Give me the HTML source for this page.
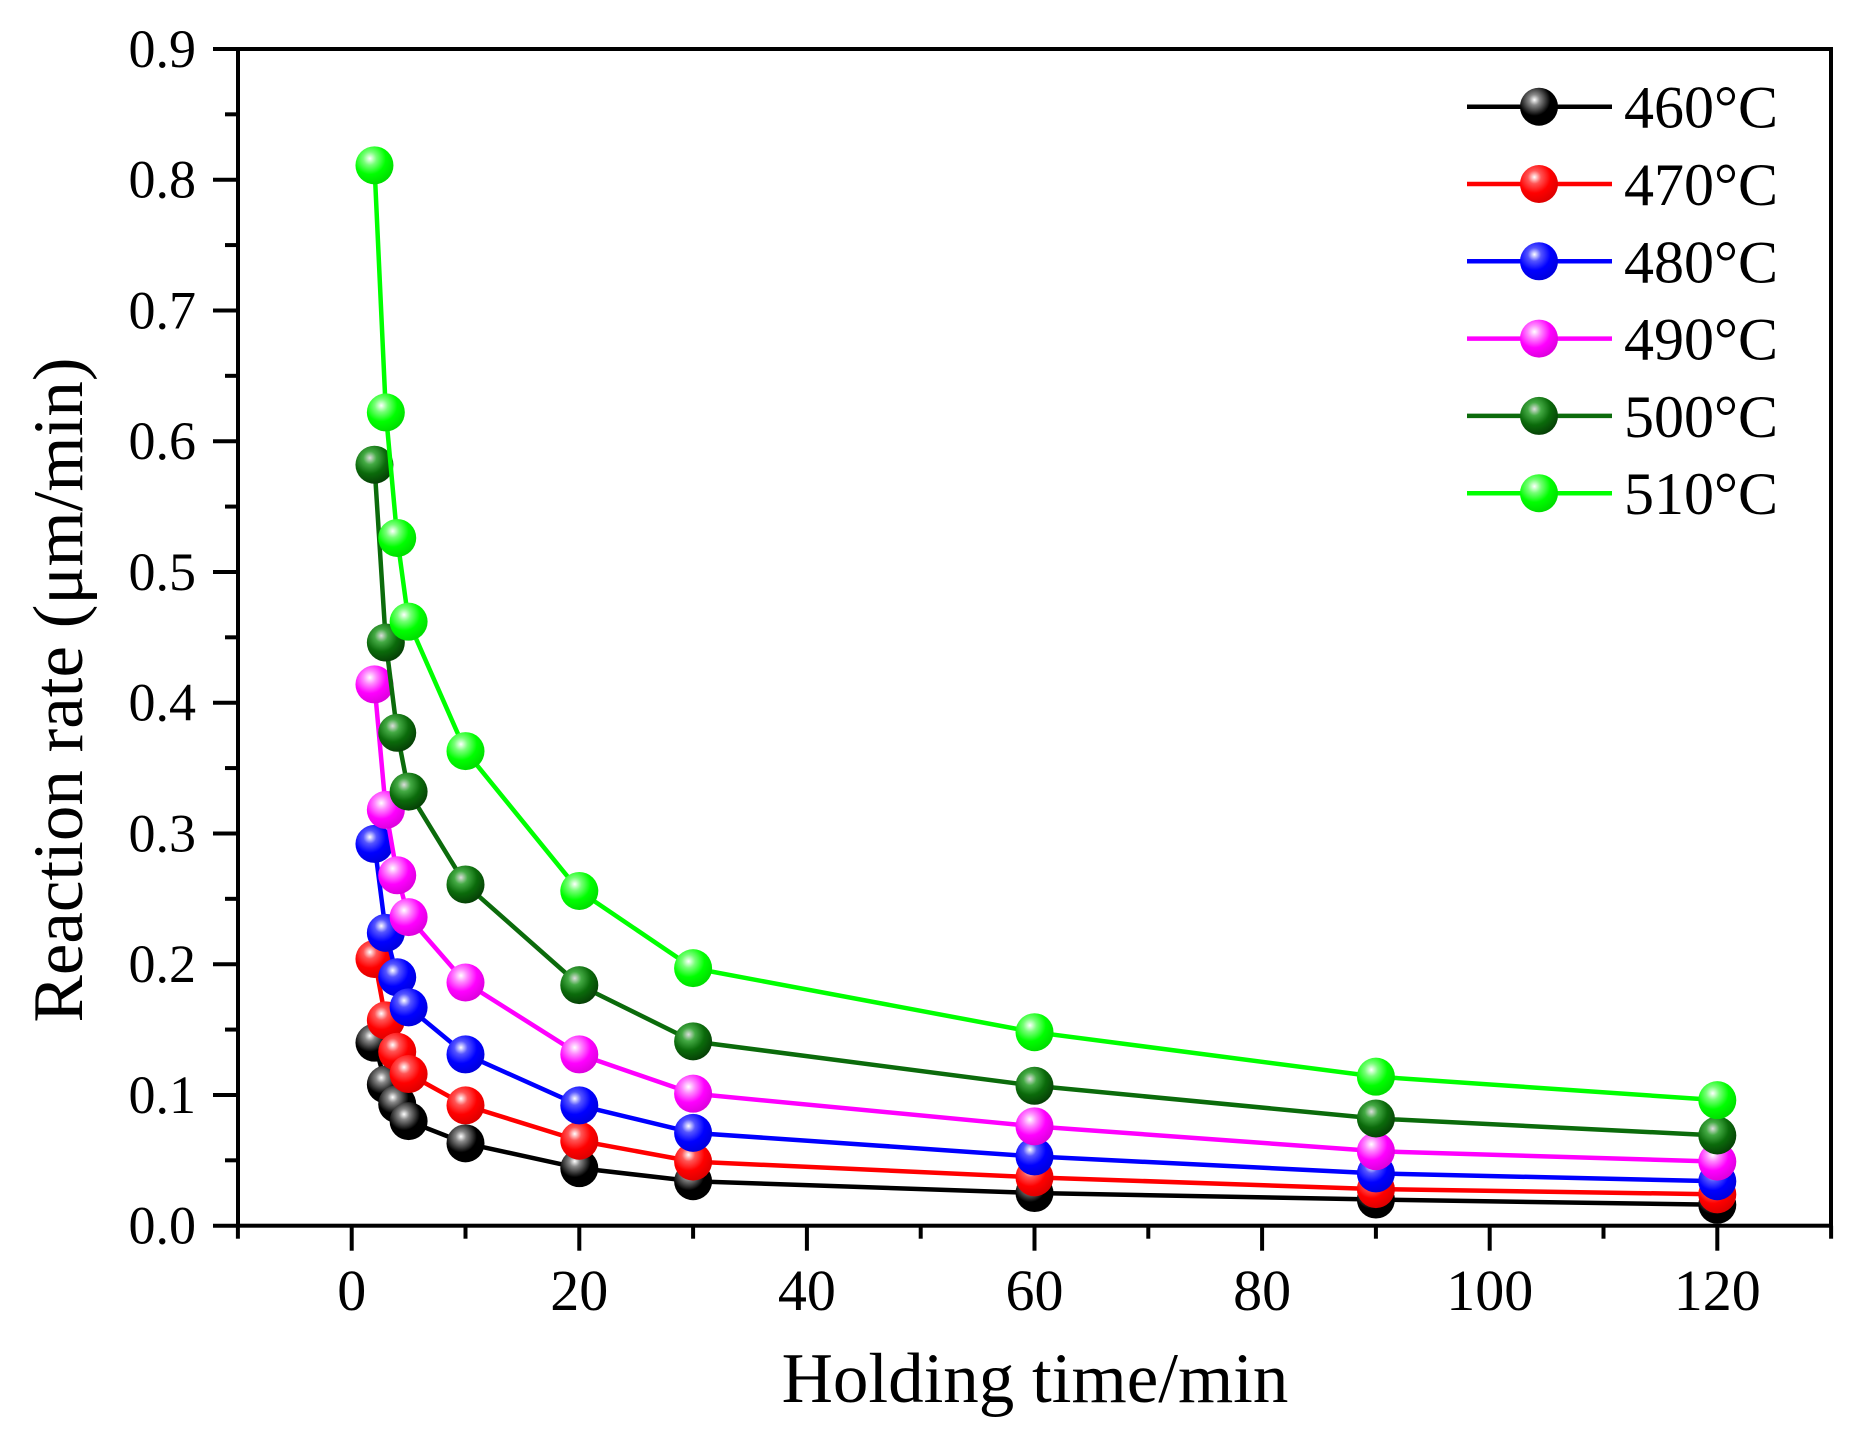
<!DOCTYPE html>
<html><head><meta charset="utf-8"><style>
html,body{margin:0;padding:0;background:#fff;}
svg{display:block;font-family:"Liberation Serif",serif;}
</style></head><body>
<svg id="c" width="1860" height="1440" viewBox="0 0 1860 1440" xmlns="http://www.w3.org/2000/svg">
<defs>
<radialGradient id="g0" cx="0.38" cy="0.32" r="0.7"><stop offset="0" stop-color="#fff"/><stop offset="0.2" stop-color="#888"/><stop offset="0.6" stop-color="#000"/><stop offset="1" stop-color="#000"/></radialGradient>
<radialGradient id="g1" cx="0.38" cy="0.32" r="0.7"><stop offset="0" stop-color="#fff"/><stop offset="0.25" stop-color="#f55"/><stop offset="0.6" stop-color="#f00"/><stop offset="1" stop-color="#d00"/></radialGradient>
<radialGradient id="g2" cx="0.38" cy="0.32" r="0.7"><stop offset="0" stop-color="#fff"/><stop offset="0.25" stop-color="#55f"/><stop offset="0.6" stop-color="#00f"/><stop offset="1" stop-color="#00d"/></radialGradient>
<radialGradient id="g3" cx="0.38" cy="0.32" r="0.7"><stop offset="0" stop-color="#fff"/><stop offset="0.25" stop-color="#f8f"/><stop offset="0.6" stop-color="#f0f"/><stop offset="1" stop-color="#d0d"/></radialGradient>
<radialGradient id="g4" cx="0.38" cy="0.32" r="0.7"><stop offset="0" stop-color="#ddd"/><stop offset="0.25" stop-color="#4a4"/><stop offset="0.6" stop-color="#0b6b0b"/><stop offset="1" stop-color="#064006"/></radialGradient>
<radialGradient id="g5" cx="0.38" cy="0.32" r="0.7"><stop offset="0" stop-color="#fff"/><stop offset="0.25" stop-color="#7f7"/><stop offset="0.6" stop-color="#0f0"/><stop offset="1" stop-color="#0d0"/></radialGradient>
</defs>
<g id="axes" stroke="#000" stroke-width="4" fill="none"></g>
<g id="data"></g>
<g id="txt" fill="#000"></g>
</svg>
<script>
var NS="http://www.w3.org/2000/svg";
function el(p,t,a,txt){var e=document.createElementNS(NS,t);for(var k in a)e.setAttribute(k,a[k]);if(txt!=null)e.textContent=txt;document.getElementById(p).appendChild(e);return e;}
var X0=351.7,SX=11.38,Y0=1225.7,SY=1307.5;
function px(x){return X0+x*SX;} function py(y){return Y0-y*SY;}
var L=238,R=1831,T=49,B=1225.7;
el("axes","rect",{x:L,y:T,width:R-L,height:B-T});
for(var i=0;i<=18;i++){var y=py(i*0.05),len=(i%2==0)?25:13;el("axes","line",{x1:L-len,y1:y,x2:L,y2:y});}
for(var x=-10;x<=130;x+=10){var len=(x%20==0)?25:13;el("axes","line",{x1:px(x),y1:B,x2:px(x),y2:B+len});}
for(var i=0;i<=9;i++){el("txt","text",{x:196,y:py(i*0.1)+18,"text-anchor":"end","font-size":"54"},(i/10).toFixed(1));}
for(var x=0;x<=120;x+=20){el("txt","text",{x:px(x),y:1310,"text-anchor":"middle","font-size":"58"},x);}
el("txt","text",{x:1035,y:1402,"text-anchor":"middle","font-size":"71"},"Holding time/min");
el("txt","text",{x:0,y:0,"text-anchor":"middle","font-size":"71",transform:"translate(82,690) rotate(-90)"},"Reaction rate (\u03bcm/min)");
var xs=[2,3,4,5,10,20,30,60,90,120];
var D=[[.14,.108,.093,.080,.063,.044,.034,.025,.020,.016],
[.204,.157,.133,.116,.092,.065,.049,.037,.028,.024],
[.292,.224,.190,.167,.131,.092,.071,.053,.040,.034],
[.414,.318,.268,.236,.186,.131,.101,.076,.057,.049],
[.582,.446,.377,.332,.261,.184,.141,.107,.082,.069],
[.811,.622,.526,.462,.363,.256,.197,.148,.114,.096]];
var C=["#000","#f00","#00f","#f0f","#0b6b0b","#0f0"];
var N=["460\u00b0C","470\u00b0C","480\u00b0C","490\u00b0C","500\u00b0C","510\u00b0C"];
for(var s=0;s<6;s++){var pts=xs.map(function(x,i){return px(x)+","+py(D[s][i]);}).join(" ");
el("data","polyline",{points:pts,fill:"none",stroke:C[s],"stroke-width":"4.5","stroke-linejoin":"round"});
xs.forEach(function(x,i){el("data","circle",{cx:px(x),cy:py(D[s][i]),r:19,fill:"url(#g"+s+")"});});
var ly=106.7+s*77.3;
el("data","line",{x1:1467,y1:ly,x2:1612,y2:ly,stroke:C[s],"stroke-width":"4.5"});
el("data","circle",{cx:1539,cy:ly,r:19,fill:"url(#g"+s+")"});
el("txt","text",{x:1624,y:ly+21,"font-size":"60"},N[s]);}
</script>
</body></html>
